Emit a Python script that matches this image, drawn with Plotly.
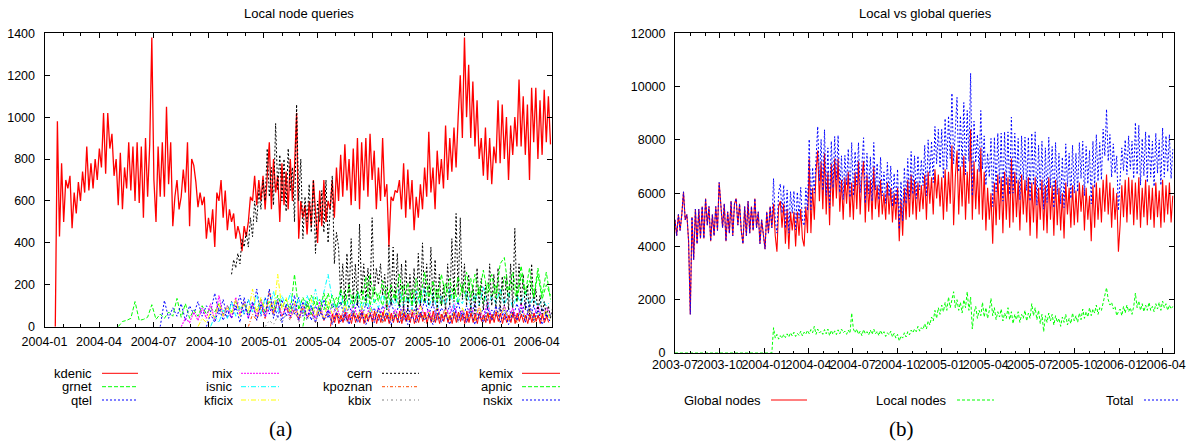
import pandas as pd
import plotly.graph_objects as go

W, H = 1190, 443

# ------------------------------------------------------------------ data (a)
# kdenic: samples every 3.5 days starting 2004-01-19
kdenic_start = "2004-01-19"
kdenic = [
    0, 980, 430, 780,
    500, 700, 660, 720, 470, 640, 540, 690,
    600, 740, 640, 860, 650, 780, 660, 800, 700,
    850, 760, 1020, 730, 1020, 850, 920, 720, 800,
    580, 830, 560, 760, 660, 880, 650, 860, 600,
    880, 590, 860, 520, 900, 620, 870, 1380,
    700, 500, 860, 620, 880, 620, 1050, 680, 880,
    480, 620, 700, 560, 620, 750, 640, 880, 480,
    800, 770, 690, 570, 640, 580, 620, 420,
    520, 450, 560, 380, 640, 600, 700, 520, 650,
    460, 560, 500, 540, 420, 480, 440, 360, 480,
    430, 500, 620, 600, 720, 580, 700, 600, 720,
    560, 700, 880, 560, 800, 640, 720, 500, 780,
    580, 740, 560, 800, 600, 760, 1020, 420,
    600, 520, 580, 440, 600, 480, 700, 520, 400,
    650, 480, 700, 500, 600, 560, 700, 520, 760,
    600, 820, 620, 870, 650, 800, 580, 850,
    600, 900, 560, 880, 650, 900, 620, 920, 700,
    840, 560, 760, 600, 900, 620, 680, 380, 620,
    600, 650, 640, 700, 560, 780, 520, 750, 560,
    700, 460, 620, 520, 680, 560, 760, 620,
    930, 640, 760, 560, 840, 680, 800, 660, 960,
    700, 900, 740, 950, 760, 1000, 1200, 900,
    1380, 1000, 1250, 900, 1170, 860, 1080, 800, 900,
    720, 950, 700, 900, 680, 860, 780, 1080, 780,
    1060, 800, 1000, 700, 960, 820, 1000, 860,
    1180, 860, 1100, 820, 1060, 700, 1140, 880, 1140,
    800, 1080, 820, 1130, 880, 1100, 870,
]

# weekly samples
grnet_start = "2004-05-03"
grnet = [
    0, 25, 30, 40, 120, 30, 35, 45, 105,
    35, 60, 40, 70, 50, 135, 45, 110, 40,
    80, 50, 100, 60, 90, 70, 110, 60, 100,
    70, 120, 80, 110, 60, 100, 80, 130, 70,
    120, 80, 150, 90, 130, 70, 250, 80, 140,
    90, 150, 100, 130, 80, 160, 90, 140, 100,
    170, 90, 150, 110, 180, 100, 250, 110, 160,
    100, 190, 110, 170, 90, 200, 120, 180, 100,
    170, 110, 200, 120, 180, 100, 210, 130, 190,
    110, 200, 130, 230, 120, 190, 110, 210, 140,
    200, 130, 240, 140, 210, 120, 250, 150, 220,
    140, 280, 150, 260, 130,
]

qtel_start = "2004-07-12"
qtel = [
    0, 125, 40, 90, 50, 110, 30, 100, 60, 120,
    50, 100, 70, 160, 60, 130, 40, 120, 80, 150,
    60, 130, 70, 180, 50, 140, 60, 120, 40, 130,
    50, 110, 60, 140, 50, 120, 30, 100, 50, 130,
    40, 110, 60, 120, 30, 100, 50, 120, 40, 110,
    60, 90, 30, 100, 40, 120, 50, 110, 30, 90,
    50, 100, 40, 130, 60, 110, 30, 90, 50, 100,
    40, 120, 30, 100, 50, 110, 40, 90, 30, 80,
    50, 100, 30, 90, 40, 110, 50, 120, 30, 100,
    40, 90, 50, 60,
]

mix_start = "2004-08-16"
mix = [
    0, 40, 20, 70, 30, 90, 40, 110, 30, 150,
    50, 100, 40, 140, 60, 120, 40, 110, 50, 130,
    40, 100, 60, 120, 50, 90, 40, 110, 30, 100,
    50, 90, 40, 120, 30, 80, 50, 100, 40, 90,
    30, 110, 50, 80, 40, 100, 30, 90, 60, 120,
    40, 80, 50, 100, 30, 90, 40, 110, 50, 80,
    30, 100, 40, 90, 60, 110, 40, 80, 30, 100,
    50, 90, 40, 120, 30, 80, 50, 100, 40, 90,
    30, 110, 40, 80, 50, 100, 40, 90, 60,
]

isnic_start = "2004-10-04"
isnic = [
    0, 50, 20, 80, 40, 120, 50, 100, 60, 130,
    70, 150, 60, 140, 80, 170, 70, 150, 90, 160,
    80, 140, 70, 150, 90, 180, 80, 160, 250, 130,
    80, 160, 70, 140, 90, 170, 80, 150, 70, 130,
    90, 160, 80, 140, 100, 180, 90, 150, 80, 170,
    100, 190, 90, 160, 80, 150, 100, 180, 90, 140,
    110, 170, 90, 160, 100, 190, 90, 150, 110, 180,
    100, 160, 90, 150, 110, 170, 100, 140, 90, 130,
    100, 120,
]

kficix_start = "2004-09-13"
kficix = [
    0, 40, 20, 70, 40, 110, 50, 90, 60, 130,
    50, 120, 70, 180, 60, 140, 80, 120, 60, 250,
    80, 140, 60, 120, 50, 110, 70, 130, 50, 100,
    40, 120, 60, 90, 40, 110, 50, 80, 40, 100,
    30, 90, 50, 80, 40, 110, 30, 70, 40, 90,
    30, 80, 50, 100, 40, 70, 30, 90, 40, 80,
    30, 70, 50, 90, 40, 80, 30, 100, 40, 70,
    30, 80, 50, 90, 40, 70, 30, 80, 40, 90,
    30, 70, 40, 80, 30,
]

# cern: samples every 3.5 days
cern_start = "2004-11-08"
cern = [
    250, 320, 280, 350, 300, 420, 380,
    450, 380, 520, 430, 600, 500, 650, 560, 700,
    600, 850, 620, 760, 580, 970, 650, 820, 600,
    800, 550, 850, 650, 760, 500, 1060, 600,
    800, 420, 620, 500, 680, 450, 700, 350, 600,
    500, 650, 450, 700, 400, 560, 720, 300, 450,
    380, 150, 300, 100, 350, 130, 420, 120, 300,
    100, 490, 150, 300, 120, 280, 130, 520,
    150, 280, 200, 300, 150, 250, 80, 390, 100,
    380, 120, 350, 100, 300, 80, 320, 60, 250,
    100, 280, 60, 350, 100, 400, 120, 300,
    100, 380, 100, 320, 80, 250, 100, 200, 80,
    300, 100, 420, 120, 540, 150, 520, 130, 300,
    100, 250, 80, 200, 60, 280, 100, 230, 80,
    200, 80, 300, 100, 250, 90, 280, 70, 240,
    100, 250, 80, 300, 90, 470, 120, 300,
    100, 250, 80, 200, 60, 300, 100, 180, 70,
    150, 60, 120, 50, 100, 40, 90,
]

kpoznan_start = "2004-12-06"
kpoznan = [
    0, 60, 30, 100, 40, 170, 60, 120, 50, 100,
    40, 80, 30, 90, 40, 70, 20, 80, 30, 60,
    20, 70, 30, 50, 20, 60, 30, 70, 20, 50,
    30, 60, 20, 70, 30, 50, 20, 60, 30, 50,
    20, 70, 30, 60, 20, 50, 30, 60, 20, 70,
    30, 50, 20, 60, 30, 50, 20, 60, 30, 70,
    20, 50, 30, 60, 20, 50, 30, 60, 20, 50,
    30, 40,
]

kbix_start = "2005-01-03"
kbix = [
    0, 30, 10, 50, 20, 60, 30, 80, 20, 70,
    30, 60, 20, 90, 30, 70, 20, 60, 30, 80,
    20, 70, 30, 90, 40, 70, 30, 80, 20, 60,
    30, 70, 20, 80, 40, 90, 30, 70, 20, 60,
    30, 80, 40, 100, 30, 70, 20, 80, 30, 90,
    40, 80, 30, 70, 40, 90, 50, 100, 40, 80,
    30, 90, 40, 80, 30, 70, 40, 60,
]

# kemix: samples every 3.5 days
kemix_start = "2005-04-22"
kemix = [
    0, 60, 20, 65, 15, 55, 20, 70, 25, 60,
    15, 65, 20, 55, 20, 70, 15, 60, 25, 65,
    20, 75, 15, 60, 20, 70, 25, 55, 15, 65,
    20, 60, 20, 75, 15, 65, 25, 60, 20, 70,
    15, 55, 20, 65, 25, 70, 15, 60, 20, 75,
    20, 65, 15, 60, 25, 70, 20, 55, 15, 65,
    20, 70, 25, 60, 15, 75, 20, 65, 20, 60,
    15, 70, 25, 55, 20, 65, 15, 60, 20, 70,
    25, 65, 15, 60, 20, 55, 20, 70, 15, 65,
    25, 60, 20, 55, 15, 60, 20, 65, 25, 55,
    15, 60, 20, 50, 20,
]

apnic_start = "2005-03-07"
apnic = [
    0, 120, 60, 140, 70, 160, 80, 150, 90, 180,
    100, 200, 90, 170, 110, 240, 100, 190, 120, 220,
    110, 200, 130, 250, 120, 210, 100, 230, 130, 260,
    140, 220, 120, 250, 150, 230, 130, 240, 160, 260,
    140, 250, 150, 270, 160, 250, 140, 300, 330, 170,
    260, 150, 290, 160, 280, 140, 250, 130, 200, 150,
]

nskix_start = "2004-09-27"
nskix = [
    0, 60, 20, 90, 30, 80, 40, 100, 20, 140,
    40, 120, 30, 110, 50, 180, 40, 130, 20, 110,
    50, 150, 30, 120, 40, 100, 20, 90, 30, 80,
    10, 70, 20, 60, 10, 80, 20, 70, 10, 60,
    20, 90, 30, 70, 10, 60, 20, 80, 10, 50,
    20, 70, 30, 60, 10, 80, 20, 60, 10, 90,
    30, 70, 20, 80, 10, 60, 20, 90, 30, 100,
    20, 80, 10, 70, 30, 90, 20, 110, 30, 80,
    10, 60, 20,
]

# ------------------------------------------------------------------ data (b)
# samples every 3.5 days starting 2003-07-01
b_start = "2003-07-01"
global_nodes = [
    5000, 4400, 5200, 4600, 5200, 6050, 5000, 5200, 4200,
    1450, 5100, 3500, 5400, 4100, 5400, 4300, 5500, 4300,
    5800, 4800, 5500, 4200, 5200, 4400, 5500, 4600, 6400,
    5500, 4700, 5600, 4200, 5300, 4500, 5700, 4400, 5600,
    5800, 4800, 5600, 4600, 4100, 5500, 4400, 5700,
    4500, 5500, 4600, 5800, 4700, 5300, 4100, 5000, 4400,
    3900, 5300, 4500, 5500, 4700, 5600, 4400, 3800, 5500,
    5700, 4700, 5600, 4100, 5400, 3900, 5300, 4600,
    5300, 4000, 5300, 4400, 5400, 4300, 4000, 5500, 4500,
    7300, 4500, 6200, 5000, 6800, 7600, 5700, 7200, 5400,
    7500, 5200, 6800, 4800, 7100, 5500, 7300, 5800,
    7300, 5300, 6500, 5000, 6600, 5600, 6800, 5100, 6400,
    5000, 6800, 5400, 7200, 5200, 6600, 7200, 4900, 6700,
    5300, 6500, 5000, 7000, 5400, 6300, 5100, 6500, 5200,
    6000, 5000, 6400, 5200, 6200, 4900, 6000, 5000,
    6200, 4200, 5800, 4400, 6200, 5000, 6500, 5100, 6700,
    5200, 6500, 5000, 6400, 5300, 6300, 5400, 6700, 5000,
    6800, 5600, 6600, 5200, 6900, 5800, 6700, 5500, 6600,
    5000, 6900, 5300, 6800, 5600, 7800, 4800, 6600, 7600,
    5200, 7000, 5500, 7400, 5000, 6800, 5600, 8400,
    5000, 7200, 5400, 6900, 5200, 7700, 5000, 6800, 4600,
    6200, 5000, 6000, 4100, 6400, 4800, 6700, 5000,
    6600, 4500, 6800, 5000, 6600, 4700, 7300, 4900, 6800,
    5100, 6500, 4600, 6700, 5200, 6500, 4900, 6600,
    4400, 6400, 4900, 6600, 4300, 6200, 5000, 6500, 4600,
    6300, 4500, 6600, 5000, 6300, 4400, 6500, 4800, 6200,
    4600, 6000, 4300, 6400, 5200, 6200, 4700, 6300, 4800,
    6100, 4900, 6400, 5300, 6300, 4600, 6200, 5000,
    5900, 4200, 6300, 4700, 6400, 5000, 6200, 4900, 6500,
    5300, 6700, 5200, 6400, 4700, 6200, 5000, 6000, 3800,
    4800, 6300, 5100, 6500, 4900, 6600, 5200, 6500, 4800,
    6400, 5000, 6600, 4700, 6200, 5100, 6500, 4800,
    6300, 5000, 6200, 4700, 6400, 5100, 6100, 4700, 6500,
    4900, 6300, 5200, 6400, 4900, 5900,
]

# local nodes: zero until late January 2004
local_nodes = [0] * 58 + [
    950, 560, 700, 520,
    650, 550, 700, 580, 720, 600, 760, 640,
    780, 620, 740, 660, 820, 640, 780, 700, 850,
    720, 880, 760, 1000, 700, 900, 750, 820, 700,
    880, 720, 900, 650, 850, 700, 830, 690,
    870, 720, 900, 760, 820, 700, 860, 740, 1500,
    900, 760, 900, 700, 820, 650, 880, 720, 800,
    680, 860, 700, 900, 720, 820, 650, 850, 700,
    800, 620, 760, 680, 820, 600, 740, 560,
    700, 450, 640, 560, 760, 600, 800, 680, 860,
    760, 900, 800, 1000, 820, 950, 880, 1100, 900,
    1200, 1050, 1350, 1200, 1600, 1300, 1700, 1450, 1800,
    1550, 1900, 1600, 2100, 1700, 1950, 2300, 1700, 2000,
    1600, 1900, 1500, 2000, 1700, 2300, 1600, 2100,
    900, 1500, 1750, 1300, 1600, 1400, 1900, 1350, 1700,
    1300, 1600, 2050, 1400, 1700, 1250, 1550, 1350,
    1650, 1200, 1500, 1300, 1700, 1250, 1550, 1100, 1450,
    1250, 1550, 1150, 1450, 1300, 1600, 1200, 1500,
    1300, 1850, 1400, 1700, 1250, 1600, 1100, 1450, 800,
    1400, 1150, 1500, 1200, 1450, 1050, 1400, 1150, 1300,
    1000, 1350, 1150, 1450, 1050, 1300, 1100, 1500, 1200,
    1400, 1150, 1500, 1250, 1650, 1300, 1550, 1350,
    1700, 1400, 1650, 1500, 1800, 1450, 1700, 1600, 1900,
    2100, 2450, 2000, 1800, 1900, 1650, 1750, 1400, 1550,
    1650, 1400, 1750, 1500, 1800, 1550, 1700, 1450, 1750,
    2250, 1700, 1950, 1600, 1850, 1550, 1800, 1600,
    1900, 1600, 1750, 1550, 1850, 1650, 1900, 1600, 1950,
    1700, 1850, 1600, 1800, 1650, 1750,
]

total_nodes = [g + l for g, l in zip(global_nodes, local_nodes)]

# ------------------------------------------------------------------ helpers
FONT = "Liberation Sans, Arial, Helvetica, sans-serif"


def dates(start, n, hours):
    return pd.date_range(start, periods=n, freq=f"{hours}h")


def px(x):
    return x / W


def py(y):
    return 1 - y / H


fig = go.Figure()

# series spec: name, values, start, step hours, colour, dash, width
series_a = [
    ("kdenic", kdenic, kdenic_start, 84, "#ff0000", "solid", 1.3),
    ("grnet", grnet, grnet_start, 168, "#00ff00", "4px,2px", 1),
    ("qtel", qtel, qtel_start, 168, "#0000ff", "2px,2px", 1),
    ("mix", mix, mix_start, 168, "#ff00ff", "2px,1px", 1.1),
    ("isnic", isnic, isnic_start, 168, "#00ffff", "5px,2px,1px,2px", 1),
    ("kficix", kficix, kficix_start, 168, "#ffff00", "5px,2px,1px,2px", 1),
    ("cern", cern, cern_start, 84, "#000000", "2px,2px", 1),
    ("kpoznan", kpoznan, kpoznan_start, 168, "#ff4d00", "3px,2px,1px,2px", 1),
    ("kbix", kbix, kbix_start, 168, "#808080", "2px,3px,1px,3px", 1),
    ("kemix", kemix, kemix_start, 84, "#ff0000", "solid", 1),
    ("apnic", apnic, apnic_start, 168, "#00ff00", "4px,2px", 1),
    ("nskix", nskix, nskix_start, 168, "#0000ff", "2px,2px", 1),
]

for name, vals, start, step, col, dash, wd in series_a:
    fig.add_trace(go.Scatter(
        x=dates(start, len(vals), step), y=vals, mode="lines", name=name,
        line=dict(color=col, dash=dash, width=wd), xaxis="x", yaxis="y",
        showlegend=False))

series_b = [
    ("Global nodes", global_nodes, "#ff0000", "solid", 1.1),
    ("Local nodes", local_nodes, "#00ff00", "3px,2px", 1),
    ("Total", total_nodes, "#0000ff", "2px,2px", 1),
]
for name, vals, col, dash, wd in series_b:
    fig.add_trace(go.Scatter(
        x=dates(b_start, len(vals), 84), y=vals, mode="lines", name=name,
        line=dict(color=col, dash=dash, width=wd), xaxis="x2", yaxis="y2",
        showlegend=False))

tickfont = dict(family=FONT, size=12.5, color="#000000")

common_x = dict(
    type="date", tickformat="%Y-%m", dtick="M3", ticks="inside", ticklen=5,
    tickcolor="#000000", showline=True, linecolor="#000000", linewidth=1,
    mirror="allticks", showgrid=False, zeroline=False, tickfont=tickfont,
    automargin=False, tickangle=0,
)
common_y = dict(
    ticks="inside", ticklen=5, tickcolor="#000000", showline=True,
    linecolor="#000000", linewidth=1, mirror="allticks", showgrid=False,
    zeroline=False, tickfont=tickfont, automargin=False, tickformat="d",
    ticklabelstandoff=6,
)

fig.update_layout(
    width=W, height=H, margin=dict(l=0, r=0, t=0, b=0),
    paper_bgcolor="white", plot_bgcolor="white", showlegend=False,
    xaxis=dict(common_x, domain=[px(44.5), px(551.7)], anchor="y",
               range=["2004-01-01", "2006-04-26"], tick0="2004-01-01",
               ticklabelstandoff=3,
               minor=dict(dtick="M1", tick0="2004-01-01", ticks="inside",
                          ticklen=2.5, tickcolor="#000000", showgrid=False)),
    yaxis=dict(common_y, domain=[py(326.7), py(33.3)], anchor="x",
               range=[0, 1400], dtick=200),
    xaxis2=dict(common_x, domain=[px(675), px(1174)], anchor="y2",
                range=["2003-07-01", "2006-04-24"], tick0="2003-07-01",
                ticklabelstandoff=0,
                minor=dict(dtick="M1", tick0="2003-07-01", ticks="inside",
                           ticklen=2.5, tickcolor="#000000", showgrid=False)),
    yaxis2=dict(common_y, domain=[py(353), py(33.3)], anchor="x2",
                range=[0, 12000], dtick=2000),
)

annotations = []
shapes = []

# titles
annotations.append(dict(text="Local node queries", x=px(299), y=py(13.3),
                        xref="paper", yref="paper", showarrow=False,
                        xanchor="center", yanchor="middle",
                        font=dict(family=FONT, size=13, color="#000000")))
annotations.append(dict(text="Local vs global queries", x=px(925), y=py(13.3),
                        xref="paper", yref="paper", showarrow=False,
                        xanchor="center", yanchor="middle",
                        font=dict(family=FONT, size=13, color="#000000")))

# legend (a): 4 columns x 3 rows (column-major in plotting order)
col_text_right = [94, 235, 374, 515]
col_sample = [(102, 138), (241, 279), (382, 419), (522, 560)]
row_y = [373.3, 386.7, 400]
for k, (name, vals, start, step, col, dash, wd) in enumerate(series_a):
    c, r = divmod(k, 3)
    annotations.append(dict(text=name, x=px(col_text_right[c]), y=py(row_y[r]),
                            xref="paper", yref="paper", showarrow=False,
                            xanchor="right", yanchor="middle",
                            font=dict(family=FONT, size=13, color="#000000")))
    shapes.append(dict(type="line", xref="paper", yref="paper",
                       x0=px(col_sample[c][0]), x1=px(col_sample[c][1]),
                       y0=py(row_y[r]), y1=py(row_y[r]),
                       line=dict(color=col, dash=dash, width=1)))

# legend (b)
b_text_right = [762.6, 949, 1136]
b_sample = [(771, 807), (957, 994), (1144, 1180)]
for k, (name, vals, col, dash, wd) in enumerate(series_b):
    annotations.append(dict(text=name, x=px(b_text_right[k]), y=py(400),
                            xref="paper", yref="paper", showarrow=False,
                            xanchor="right", yanchor="middle",
                            font=dict(family=FONT, size=13, color="#000000")))
    shapes.append(dict(type="line", xref="paper", yref="paper",
                       x0=px(b_sample[k][0]), x1=px(b_sample[k][1]),
                       y0=py(400), y1=py(400),
                       line=dict(color=col, dash=dash, width=1)))

# panel captions
for txt, xc in (("(a)", 280), ("(b)", 901)):
    annotations.append(dict(text=txt, x=px(xc), y=py(428.5), xref="paper",
                            yref="paper", showarrow=False, xanchor="center",
                            yanchor="middle",
                            font=dict(family="Liberation Serif, Times New Roman, serif",
                                      size=21, color="#000000")))

fig.update_layout(annotations=annotations, shapes=shapes)

fig.write_html("out.html")
